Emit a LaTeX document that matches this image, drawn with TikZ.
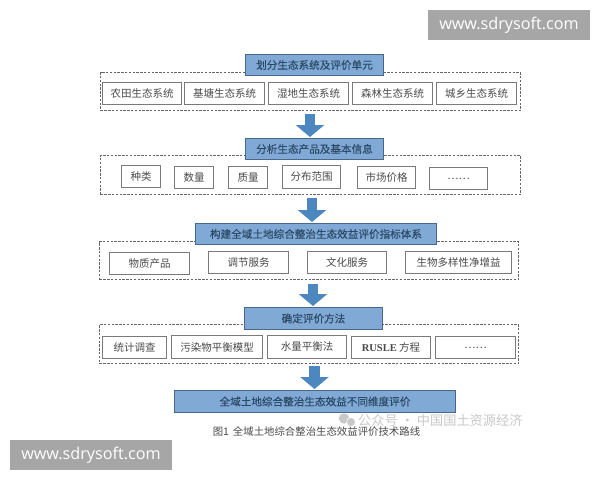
\documentclass[tikz,border=0pt]{standalone}
\usepackage{fontspec}
\setmainfont{Noto Sans CJK SC}
\newfontfamily\titlefont[FakeBold=0.25]{Noto Sans CJK SC}
\newfontfamily\wmfont{Open Sans}
\newfontfamily\latinserif{Liberation Serif}
\usetikzlibrary{arrows.meta}
\definecolor{titlefill}{HTML}{80A9D6}
\definecolor{titleedge}{HTML}{46698C}
\definecolor{titletext}{HTML}{2C4A66}
\definecolor{itemedge}{HTML}{7A7A7A}
\definecolor{itemtext}{HTML}{4A4A4A}
\definecolor{dashedge}{HTML}{666666}
\definecolor{flowblue}{HTML}{4D87BF}
\definecolor{markgray}{HTML}{A6A6A6}
\definecolor{wechatgray}{HTML}{C8C8C8}
\tikzset{
  x=1pt,y=-1pt,
  group/.style={draw=dashedge,line width=0.9pt,dash pattern=on 2.4pt off 1.4pt},
  titlebox/.style={draw=titleedge,line width=1pt,fill=titlefill,text=titletext,font=\titlefont\fontsize{10.6}{12}\selectfont,inner sep=0pt},
  itembox/.style={draw=itemedge,line width=1pt,fill=white,text=itemtext,font=\fontsize{10.5}{12}\selectfont,inner sep=0pt},
  flow/.style={draw=flowblue,line width=10.5pt,-{Triangle[length=12pt,width=28pt]},shorten >=1pt},
  markbox/.style={fill=markgray,text=white,font=\wmfont\fontsize{16.2}{18}\selectfont,inner sep=0pt}
}
% name, style, x1, y1, x2, y2, text (outer edges of the stroke)
\newcommand{\pxbox}[7]{%
  \pgfmathsetmacro{\cxv}{(#3+#5)/2}%
  \pgfmathsetmacro{\cyv}{(#4+#6)/2}%
  \pgfmathsetmacro{\wv}{#5-#3-1}%
  \pgfmathsetmacro{\hv}{#6-#4-1}%
  \node[#2,minimum width=\wv pt,minimum height=\hv pt] (#1) at (\cxv,\cyv) {#7};}
\begin{document}
\begin{tikzpicture}
\useasboundingbox (0,0) rectangle (600,480);
\fill[white] (0,0) rectangle (600,480);
% dashed groups
\pxbox{g1}{group}{100}{72}{521}{111}{}
\pxbox{g2}{group}{100}{155}{521}{195}{}
\pxbox{g3}{group}{99}{241}{519}{280}{}
\pxbox{g4}{group}{99}{324}{519}{364}{}
% row 1
\pxbox{a1}{itembox}{102}{82}{182}{105}{农田生态系统}
\pxbox{a2}{itembox}{184}{82}{265}{105}{基塘生态系统}
\pxbox{a3}{itembox}{268}{82}{349}{105}{湿地生态系统}
\pxbox{a4}{itembox}{352}{82}{433}{105}{森林生态系统}
\pxbox{a5}{itembox}{436}{82}{517}{105}{城乡生态系统}
% row 2
\pxbox{b1}{itembox}{121}{165}{161}{188}{种类}
\pxbox{b2}{itembox}{174}{166}{214}{189}{数量}
\pxbox{b3}{itembox}{228}{166}{268}{189}{质量}
\pxbox{b4}{itembox}{282}{165}{341}{189}{分布范围}
\pxbox{b5}{itembox}{357}{166}{416}{189}{市场价格}
\pxbox{b6}{itembox}{429}{167}{488}{190}{……}
% row 3
\pxbox{c1}{itembox}{109}{252}{190}{275}{物质产品}
\pxbox{c2}{itembox}{208}{251}{289}{274}{调节服务}
\pxbox{c3}{itembox}{307}{251}{387}{274}{文化服务}
\pxbox{c4}{itembox}{405}{251}{512}{274}{生物多样性净增益}
% row 4
\pxbox{d1}{itembox}{102}{336}{167}{359}{统计调查}
\pxbox{d2}{itembox}{171}{335}{263}{359}{污染物平衡模型}
\pxbox{d3}{itembox}{267}{335}{347}{359}{水量平衡法}
\pxbox{d4}{itembox}{351}{336}{431}{359}{{\latinserif\bfseries RUSLE} 方程}
\pxbox{d5}{itembox}{435}{336}{516}{359}{……}
% titles
\pxbox{t1}{titlebox}{245}{54}{384}{76}{划分生态系统及评价单元}
\pxbox{t2}{titlebox}{245}{138}{384}{160}{分析生态产品及基本信息}
\pxbox{t3}{titlebox}{195}{223}{437}{245}{构建全域土地综合整治生态效益评价指标体系}
\pxbox{t4}{titlebox}{244}{307}{383}{330}{确定评价方法}
\pxbox{t5}{titlebox}{174}{390}{456}{413}{全域土地综合整治生态效益不同维度评价}
% block arrows
\coordinate (ax1) at (310,0);
\coordinate (ax2) at (312,0);
\coordinate (ax3) at (313,0);
\coordinate (ax4) at (314.5,0);
\draw[flow,shorten <=3pt] (g1.south -| ax1) -- (t2.north -| ax1);
\draw[flow,shorten <=3pt] (g2.south -| ax2) -- (t3.north -| ax2);
\draw[flow,shorten <=4pt] (g3.south -| ax3) -- (t4.north -| ax3);
\draw[flow,shorten <=2pt] (g4.south -| ax4) -- (t5.north -| ax4);
% caption
\node[text=itemtext,font=\fontsize{10.4}{12}\selectfont,inner sep=0pt] (cap) at (316.5,432) {图1\hspace{4pt}全域土地综合整治生态效益评价技术路线};
% wechat watermark
\fill[wechatgray] (344,418.5) circle (5.2pt);
\fill[white] (351,422) circle (4.8pt);
\fill[wechatgray] (351,422) circle (4pt);
\node[text=wechatgray,font=\fontsize{13.2}{15}\selectfont,inner sep=0pt,anchor=west] (wm) at (358,420) {公众号 · 中国国土资源经济};
% site marks
\pxbox{m1}{markbox}{427.5}{9.5}{590.5}{40.5}{www.sdrysoft.com}
\pxbox{m2}{markbox}{9.5}{439.5}{172.5}{470.5}{www.sdrysoft.com}
\end{tikzpicture}
\end{document}
